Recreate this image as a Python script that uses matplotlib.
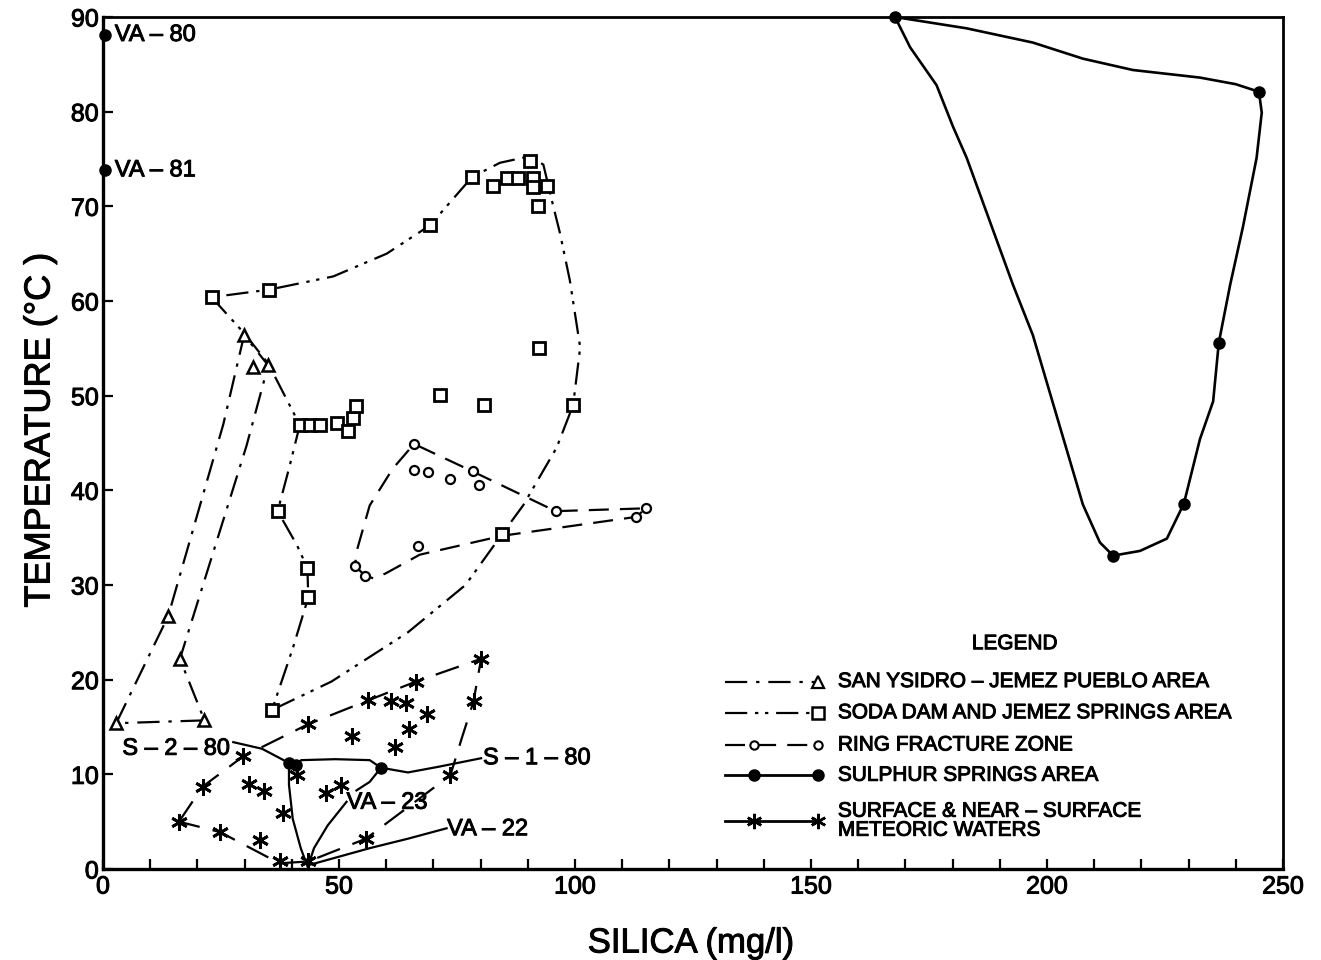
import matplotlib
matplotlib.use("Agg")
import matplotlib.pyplot as plt
import matplotlib.patheffects as pe

plt.rcParams["font.family"] = ["Liberation Sans", "DejaVu Sans"]

# ---- values (silica mg/l, temperature degC) ----

# San Ysidro - Jemez Pueblo area
sy_si = [2.8, 21.5, 13.8, 16.3, 29.9, 31.7, 35.0]
sy_t = [15.4, 15.7, 26.7, 22.2, 56.4, 53.0, 53.2]
sy_line_si = [2.8, 13.8, 25.5, 29.9, 35.0, 30.4, 16.3, 21.5, 2.8]
sy_line_t = [15.4, 26.7, 47.0, 56.4, 53.2, 44.7, 22.2, 15.7, 15.4]

# Soda Dam and Jemez Springs area
sd_si = [23.0, 35.2, 69.3, 78.2, 82.6, 85.5, 88.0, 90.5, 91.0, 91.0, 94.0,
         92.2, 92.3, 99.6, 71.5, 80.8, 41.7, 43.9, 46.0, 49.6, 51.9, 53.0,
         53.6, 37.0, 43.3, 43.5, 35.8, 84.6]
sd_t = [60.4, 61.2, 68.0, 73.1, 72.2, 73.0, 73.0, 74.8, 73.0, 72.0, 72.1,
        70.0, 55.0, 49.0, 50.1, 49.0, 46.9, 46.9, 46.9, 47.1, 46.3, 47.6,
        48.9, 37.8, 31.8, 28.7, 16.8, 35.4]
sd_line_si = [23.0, 29.9, 35.0, 41.7, 39.4, 37.0, 41.1, 43.3, 43.5, 40.2,
              35.8, 48.4, 64.6, 76.8, 84.6, 89.0, 96.1, 99.6, 101.1, 98.9,
              96.8, 95.4, 93.3, 90.5, 84.1, 78.2, 69.3, 60.1, 48.8, 35.2, 23.0]
sd_line_t = [60.4, 56.6, 53.4, 46.9, 42.3, 37.8, 34.2, 31.8, 28.7, 23.3,
             16.8, 19.8, 25.0, 30.0, 35.4, 38.4, 44.5, 49.0, 55.1, 62.2,
             67.2, 70.0, 74.4, 75.3, 74.6, 73.1, 68.0, 65.0, 62.6, 61.2, 60.4]

# Ring fracture zone
rf_si = [65.9, 65.9, 68.9, 73.6, 78.3, 79.7, 95.9, 115.0, 113.0, 66.7, 53.4, 55.5]
rf_t = [44.9, 42.1, 41.9, 41.2, 42.0, 40.6, 37.8, 38.1, 37.2, 34.1, 32.0, 31.0]
rf_line_si = [55.5, 53.4, 53.7, 56.5, 61.4, 65.9, 78.3, 95.9, 115.0, 113.0,
              84.6, 67.1, 59.8, 57.3, 55.5]
rf_line_t = [31.0, 32.0, 33.5, 38.4, 42.3, 44.9, 42.0, 37.8, 38.1, 37.2,
             35.2, 33.2, 31.2, 30.7, 31.0]

# Sulphur Springs area
ss_si = [167.8, 244.9, 236.4, 229.0, 214.0, 39.4, 40.9, 58.9, 0.5, 0.5]
ss_t = [90.0, 82.1, 55.6, 38.6, 33.1, 11.2, 11.0, 10.7, 88.1, 73.8]
ss_line_si = [167.8, 183.0, 197.0, 207.6, 218.2, 232.4, 240.0, 244.9, 245.5,
              244.4, 241.5, 238.8, 236.4, 235.2, 232.4, 229.0, 225.4, 219.7,
              214.0, 211.2, 207.6, 197.0, 192.8, 183.0, 180.1, 176.6, 171.0,
              167.8]
ss_line_t = [90.0, 88.8, 87.3, 85.6, 84.4, 83.6, 82.9, 82.1, 79.9, 75.1,
             67.8, 61.7, 55.6, 49.4, 45.4, 38.6, 34.9, 33.6, 33.1, 34.5,
             38.5, 56.4, 61.7, 75.1, 78.4, 82.8, 86.8, 90.0]

# Surface & near-surface meteoric waters
mw_si = [80.1, 66.3, 78.5, 56.1, 61.0, 64.2, 68.7, 43.5, 64.9, 52.8, 61.8,
         29.7, 41.1, 21.1, 30.9, 34.1, 47.2, 50.4, 73.6, 38.2, 16.1, 24.8,
         33.3, 55.7, 37.4, 43.5]
mw_t = [22.2, 19.8, 17.7, 17.8, 17.7, 17.5, 16.4, 15.3, 14.8, 14.0, 12.9,
        11.9, 9.9, 8.7, 9.0, 8.2, 8.0, 8.9, 9.9, 5.9, 5.0, 3.9, 3.1, 3.2,
        0.8, 0.8]
mw_line_si = [16.1, 21.1, 29.7, 43.5, 56.1, 66.3, 80.1, 78.5, 76.0, 73.6,
              55.7, 43.5, 37.4, 24.8, 16.1]
mw_line_t = [5.0, 8.7, 11.9, 15.3, 17.8, 19.8, 22.2, 17.7, 13.8, 9.9,
             3.2, 0.8, 0.6, 3.9, 5.0]

# labelled well / spring traces (solid)
s280_si, s280_t = [27.6, 33.7, 39.4], [13.4, 12.7, 11.2]
link_si, link_t = [40.9, 42.0, 49.2, 56.5, 58.9], [11.0, 11.5, 11.6, 11.5, 10.7]
s180_si, s180_t = [58.9, 64.6, 71.1, 80.1], [10.7, 10.2, 10.8, 11.7]
va23a_si, va23a_t = [58.9, 56.5, 53.7], [10.7, 9.2, 8.3]
va23b_si, va23b_t = [51.6, 47.6, 44.7, 43.5], [7.1, 4.6, 2.2, 0.4]
drop_si, drop_t = [39.4, 39.4, 40.2, 41.9, 43.3], [11.2, 8.9, 5.3, 2.2, 0.3]
va22_si, va22_t = [43.5, 56.5, 64.6, 72.8], [0.4, 2.2, 3.2, 4.3]

legend_labels = ["SAN YSIDRO – JEMEZ PUEBLO AREA",
                 "SODA DAM AND JEMEZ SPRINGS AREA",
                 "RING FRACTURE ZONE",
                 "SULPHUR SPRINGS AREA",
                 "SURFACE & NEAR – SURFACE\nMETEORIC WATERS"]

# ---- styles ----
DASHDOT = (0, (10, 4, 1.5, 4))
DASHDOT2 = (0, (10, 3.5, 1.5, 3, 1.5, 3.5))
DASHED = (0, (9, 5))
LW = 1.6
ASTER = (6, 2, 0)
INK = [pe.withStroke(linewidth=0.7, foreground="k")]   # printed-ink weight

fig = plt.figure(figsize=(13.21, 9.6), dpi=100)
ax = fig.add_axes([103 / 1321, 91 / 960, 1180 / 1321, 852 / 960])

ax.plot(sy_line_si, sy_line_t, color="k", lw=LW, ls=DASHDOT)
ax.plot(sd_line_si, sd_line_t, color="k", lw=LW, ls=DASHDOT2)
ax.plot(rf_line_si, rf_line_t, color="k", lw=LW, ls=DASHED)
ax.plot(ss_line_si, ss_line_t, color="k", lw=LW + 0.3, clip_on=False)
ax.plot(mw_line_si, mw_line_t, color="k", lw=LW, ls=(0, (11, 6)))
for xs, ys in [(s280_si, s280_t), (link_si, link_t), (s180_si, s180_t),
               (va23a_si, va23a_t), (va23b_si, va23b_t), (drop_si, drop_t),
               (va22_si, va22_t)]:
    ax.plot(xs, ys, color="k", lw=LW)

ax.plot(sy_si, sy_t, ls="none", marker="^", ms=9, mfc="white", mec="k", mew=1.8, zorder=4)
ax.plot(sd_si, sd_t, ls="none", marker="s", ms=9, mfc="white", mec="k", mew=2, zorder=4)
ax.plot(rf_si, rf_t, ls="none", marker="o", ms=6.5, mfc="white", mec="k", mew=1.6, zorder=4)
ax.plot(ss_si, ss_t, ls="none", marker="o", ms=8, color="k", zorder=5, clip_on=False)
ax.plot(mw_si, mw_t, ls="none", marker=ASTER, ms=12, mec="k", mew=2, zorder=4, clip_on=False)

# point labels
lab = dict(fontsize=17, va="center", color="k", path_effects=INK)
ax.text(2.5, 88.1, "VA – 80", ha="left", **lab)
ax.text(2.5, 73.8, "VA – 81", ha="left", **lab)
ax.text(27.0, 12.7, "S – 2 – 80", ha="right", **lab)
ax.text(80.5, 11.7, "S – 1 – 80", ha="left", **lab)
ax.text(51.6, 7.0, "VA – 23", ha="left", **lab)
ax.text(72.9, 4.2, "VA – 22", ha="left", **lab)

# hand-drawn style legend
ax.text(193.2, 23.8, "LEGEND", ha="center", va="center", fontsize=15, path_effects=INK)
lx0, lx1, lxm, ltx = 131.8, 151.5, 138.0, 155.7
rows = [19.8, 16.5, 13.1, 9.9, 5.1]
ax.plot([lx0, lx1], [rows[0]] * 2, color="k", lw=LW, ls=DASHDOT)
ax.plot([lx1], [rows[0]], marker="^", ms=8, mfc="white", mec="k", mew=1.6)
ax.plot([lx0, lx1], [rows[1]] * 2, color="k", lw=LW, ls=DASHDOT2)
ax.plot([lx1], [rows[1]], marker="s", ms=8, mfc="white", mec="k", mew=1.8)
ax.plot([lx0, lx1], [rows[2]] * 2, color="k", lw=LW, ls=DASHED)
ax.plot([lxm, lx1], [rows[2]] * 2, ls="none", marker="o", ms=6, mfc="white", mec="k", mew=1.5)
ax.plot([lx0, lx1], [rows[3]] * 2, color="k", lw=LW + 0.4)
ax.plot([lxm, lx1], [rows[3]] * 2, ls="none", marker="o", ms=8, color="k")
ax.plot([lx0, lx1], [rows[4]] * 2, color="k", lw=LW + 0.4)
ax.plot([lxm, lx1], [rows[4]] * 2, ls="none", marker=ASTER, ms=11, mec="k", mew=1.8)
for r, txt in zip(rows, legend_labels):
    ax.text(ltx, r, txt, ha="left", va="center", fontsize=15, linespacing=1.0,
            path_effects=INK)

# axes
ax.set_xlim(0, 250)
ax.set_ylim(0, 90)
ax.set_xticks(range(0, 251, 50))
ax.set_xticks(range(0, 251, 10), minor=True)
ax.set_yticks(range(0, 91, 10))
ax.tick_params(axis="both", which="both", direction="in", top=False, right=False,
               length=7, width=1.6, labelsize=18, pad=4)
ax.tick_params(axis="y", pad=3)
for lbl in ax.get_xticklabels() + ax.get_yticklabels():
    lbl.set_path_effects(INK)
for side in ["left", "bottom"]:
    ax.spines[side].set_linewidth(2.4)
for side in ["top", "right"]:
    ax.spines[side].set_linewidth(2.0)

fig.text(40 / 1321, 1 - 430 / 960, "TEMPERATURE (°C )", rotation=90,
         ha="center", va="center", fontsize=26, path_effects=INK)
fig.text(691 / 1321, 1 - 943 / 960, "SILICA (mg/l)", ha="center", va="center",
         fontsize=25, path_effects=INK)

fig.savefig("out.png", dpi=100)
